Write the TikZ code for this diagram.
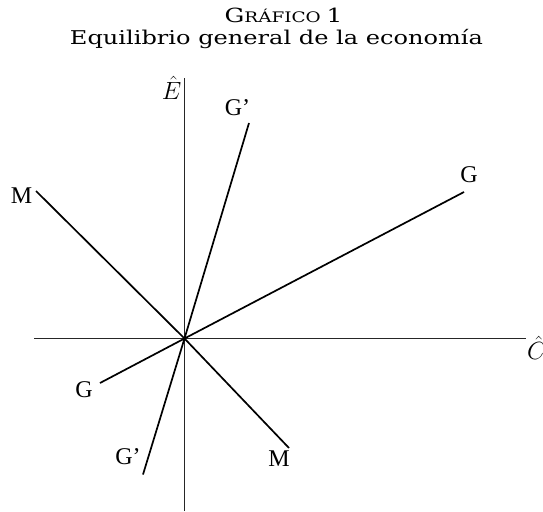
\documentclass[tikz,border=0pt]{standalone}
\usepackage{graphicx}
\usepackage{fontspec}
\newfontfamily\lbl{Liberation Serif}
\newfontfamily\ttlfont{DejaVu Serif}
\begin{document}
\begin{tikzpicture}[x=1pt,y=-1pt,
  ln/.style={line width=1.7pt,black},
  ax/.style={line width=1.4pt,black!85},
  lab/.style={font=\lbl\fontsize{24}{24}\selectfont,inner sep=0pt},
  ttl/.style={inner sep=0pt,anchor=base}]
\useasboundingbox (0,0) rectangle (543,511);
% title
\node[ttl] (t1) at (283.5,23) {\scalebox{1.27}[1]{\ttlfont\fontsize{19.5}{20}\selectfont G\fontsize{14.5}{15}\selectfont RÁFICO \fontsize{19.5}{20}\selectfont 1}};
\node[ttl] (t2) at (276.5,45) {\scalebox{1.267}[1]{\ttlfont\fontsize{19}{20}\selectfont Equilibrio general de la economía}};
% axes
\coordinate (O) at (184.5,338.5);
\coordinate (Etop) at (184.5,78);
\coordinate (Ebot) at (184.5,511);
\coordinate (Cl) at (34,338.5);
\coordinate (Cr) at (526,338.5);
\draw[ax] (Ebot) -- (Etop);
\draw[ax] (Cl) -- (Cr);
\node[inner sep=0pt,font=\fontsize{23}{23}\selectfont,anchor=east] (Elab) at (181.5,88) {$\hat{E}$};
\node[inner sep=0pt,font=\fontsize{23}{23}\selectfont,anchor=west] (Clab) at (527,348) {$\hat{C}$};
% lines
\coordinate (Gpu) at (249,123);
\coordinate (Gpl) at (143,474.5);
\coordinate (Gu) at (464,192);
\coordinate (Gl) at (100,383);
\coordinate (Mu) at (36,191);
\coordinate (Ml) at (289,448);
\draw[ln] (Gpl) -- (O) -- (Gpu);
\draw[ln] (Gl) -- (O) -- (Gu);
\draw[ln] (Mu) -- (O) -- (Ml);
% labels
\node[lab] (LGpu) at (237.5,108) {G’};
\node[lab] (LGpl) at (128,457) {G’};
\node[lab] (LGu) at (469,175) {G};
\node[lab] (LGl) at (84,390) {G};
\node[lab] (LMu) at (21.5,196) {M};
\node[lab] (LMl) at (279,459) {M};
\end{tikzpicture}
\end{document}
